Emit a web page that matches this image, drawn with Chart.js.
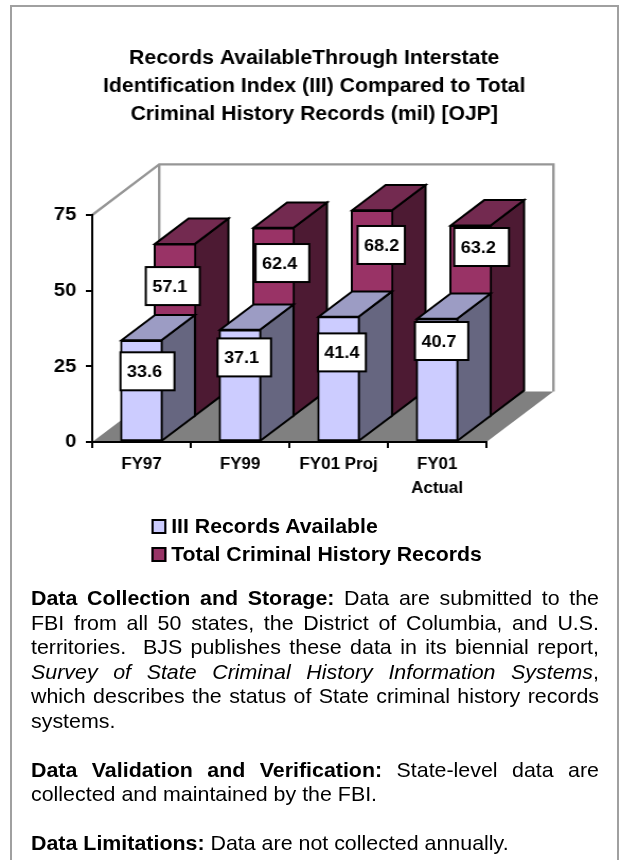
<!DOCTYPE html>
<html><head><meta charset="utf-8">
<script src="https://cdn.jsdelivr.net/npm/chart.js@4/dist/chart.umd.js"></script>
<style>
html,body{margin:0;padding:0;background:#fff;width:621px;height:860px;overflow:hidden;font-family:"Liberation Sans",Arial,sans-serif;color:#000}
#frame{position:absolute;left:10px;top:5px;width:609px;height:870px;border:2px solid #A0A0A0;box-sizing:border-box}
#root{position:absolute;left:0;top:0;width:586px;height:860px;transform:scaleX(1.05973);transform-origin:0 0}
#legend{position:absolute;left:142.9px;top:512px;font-weight:bold;font-size:20.1px;line-height:28px}
#legend div{white-space:nowrap;display:flex;align-items:center;height:28px}
#legend i{display:inline-block;width:14.6px;height:15px;border:2px solid #000;box-sizing:border-box;margin-right:4px}
#body{position:absolute;left:29.25px;top:586px;width:536px;font-size:20.2px;line-height:24.5px}
#body div{text-align:justify;text-align-last:justify;height:24.5px}
#body div.l{text-align:left;text-align-last:left}
</style></head><body>
<div id="frame"></div>
<div id="root">
<canvas id="c" width="586" height="860"></canvas>
<div id="legend"></div>
<div id="body">
<div><b>Data Collection and Storage:</b> Data are submitted to the</div>
<div>FBI from all 50 states, the District of Columbia, and U.S.</div>
<div>territories.&nbsp; BJS publishes these data in its biennial report,</div>
<div><i>Survey of State Criminal History Information Systems</i>,</div>
<div>which describes the status of State criminal history records</div>
<div class="l">systems.</div>
<div class="l"></div>
<div><b>Data Validation and Verification:</b> State-level data are</div>
<div class="l">collected and maintained by the FBI.</div>
<div class="l"></div>
<div class="l"><b>Data Limitations:</b> Data are not collected annually.</div>
</div>
</div>
<script>
const titleLines = ["Records AvailableThrough Interstate","Identification Index (III) Compared to Total","Criminal History Records (mil) [OJP]"];
const categories = ["FY97","FY99","FY01 Proj",["FY01","Actual"]];
const seriesNames = ["III Records Available","Total Criminal History Records"];
const iiiRecords = [33.6,37.1,41.4,40.7];
const totalRecords = [57.1,62.4,68.2,63.2];
const yTicks = [0,25,50,75];
const frontColors = ["#CCCCFF","#993366"];
const topColors = ["#9C9CC4","#732A50"];
const sideColors = ["#666680","#4D1A33"];
const U = 621/586;
const depth = {dx:33.5/U,dy:-25.3};
// data-label boxes, relative to the top-centre of each bar's front face: [left offset, centre offset, box width]
const labelBoxes = [
  [[-21,31,54],[-22.5,27.7,53.5],[-20.7,35.7,48],[-22.2,22.2,53.3]],
  [[-29.2,42.2,54],[-18,35.2,53.7],[-14.5,34.7,47.3],[-16.4,21.6,54.7]]
];

const bar3d = {
  id:'bar3d',
  beforeDraw(chart){
    const {ctx,chartArea:a}=chart, d=depth;
    ctx.save();
    ctx.fillStyle='#808080';
    ctx.beginPath();
    ctx.moveTo(a.left,a.bottom);ctx.lineTo(a.right,a.bottom);
    ctx.lineTo(a.right+2*d.dx,a.bottom+2*d.dy);ctx.lineTo(a.left+2*d.dx,a.bottom+2*d.dy);
    ctx.closePath();ctx.fill();
    ctx.strokeStyle='#969696';ctx.lineWidth=2.4;
    ctx.beginPath();
    ctx.moveTo(a.left,a.top);
    ctx.lineTo(a.left+2*d.dx,a.top+2*d.dy);
    ctx.lineTo(a.right+2*d.dx,a.top+2*d.dy);
    ctx.lineTo(a.right+2*d.dx,a.bottom+2*d.dy);
    ctx.moveTo(a.left+2*d.dx,a.top+2*d.dy);
    ctx.lineTo(a.left+2*d.dx,a.bottom+2*d.dy);
    ctx.stroke();
    ctx.restore();
  },
  beforeDatasetDraw(chart,args){
    const {ctx}=chart, i=args.index, ox=i*depth.dx, oy=i*depth.dy;
    ctx.save();
    ctx.translate(ox,oy);
    ctx.strokeStyle='#000';ctx.lineWidth=2;ctx.lineJoin='miter';
    args.meta.data.forEach(b=>{
      const h=(b.width-2)/2, l=b.x-h, r=b.x+h, t=b.y, u=b.base;
      const q=(pts,c)=>{ctx.fillStyle=c;ctx.beginPath();pts.forEach((p,k)=>k?ctx.lineTo(p[0],p[1]):ctx.moveTo(p[0],p[1]));ctx.closePath();ctx.fill();ctx.stroke();};
      q([[r,t],[r+depth.dx,t+depth.dy],[r+depth.dx,u+depth.dy],[r,u]],sideColors[i]);
      q([[l,t],[l+depth.dx,t+depth.dy],[r+depth.dx,t+depth.dy],[r,t]],topColors[i]);
    });
  },
  afterDatasetDraw(chart){ chart.ctx.restore(); },
  afterDatasetsDraw(chart){
    const {ctx}=chart;
    ctx.save();
    ctx.font='bold 17px "Liberation Sans"';ctx.textAlign='left';ctx.textBaseline='middle';
    [1,0].forEach(i=>{
      const vals=chart.data.datasets[i].data;
      chart.getDatasetMeta(i).data.forEach((b,j)=>{
        const [ox,oy,bw]=labelBoxes[i][j];
        const left=b.x+i*depth.dx+ox/U, cy=b.y+i*depth.dy+oy, w=bw/U, h=38;
        ctx.fillStyle='#fff';ctx.fillRect(left,cy-h/2,w,h);
        ctx.strokeStyle='#000';ctx.lineWidth=2;ctx.strokeRect(left,cy-h/2,w,h);
        ctx.fillStyle='#000';ctx.fillText(vals[j].toFixed(1),left+6.5/U,cy+1);
      });
    });
    ctx.restore();
  }
};

const chart = new Chart(document.getElementById('c'),{
  type:'bar',
  data:{labels:categories,datasets:[
    {label:seriesNames[0],data:iiiRecords,backgroundColor:frontColors[0]},
    {label:seriesNames[1],data:totalRecords,backgroundColor:frontColors[1]}
  ]},
  plugins:[bar3d],
  options:{
    responsive:false,animation:false,
    layout:{padding:{left:7,right:0,top:0,bottom:0}},
    datasets:{bar:{grouped:false,barThickness:42/U,borderColor:'#000',borderWidth:2,borderSkipped:false,clip:false}},
    plugins:{
      legend:{display:false},tooltip:{enabled:false},
      title:{display:true,text:titleLines,color:'#000',font:{family:'"Liberation Sans"',size:20,weight:'bold',lineHeight:1.4},padding:{top:44.5,bottom:86.5}}
    },
    scales:{
      x:{
        afterFit(s){s.height=418;},
        border:{color:'#000',width:2},
        grid:{drawOnChartArea:false,color:'#000',lineWidth:2,tickLength:6,tickColor:'#000',tickWidth:2},
        ticks:{color:'#000',font:{family:'"Liberation Sans"',size:16,weight:'bold',lineHeight:1.5},maxRotation:0,autoSkip:false,padding:5}
      },
      y:{
        min:0,max:75,
        afterFit(s){s.width=80;},
        afterBuildTicks(s){s.ticks=yTicks.map(v=>({value:v}));},
        border:{color:'#000',width:2},
        grid:{drawOnChartArea:false,color:'#000',lineWidth:2,tickLength:6,tickColor:'#000',tickWidth:2},
        ticks:{color:'#000',font:{family:'"Liberation Sans"',size:19,weight:'bold'},padding:9}
      },
      gutter:{
        axis:'y',position:'right',display:true,
        afterFit(s){s.width=127;},
        grid:{display:false},border:{display:false},ticks:{display:false}
      }
    }
  }
});
const lg=document.getElementById('legend');
seriesNames.forEach((n,i)=>{const r=document.createElement('div');const s=document.createElement('i');s.style.background=frontColors[i];r.appendChild(s);r.appendChild(document.createTextNode(n));lg.appendChild(r);});
</script>
</body></html>
